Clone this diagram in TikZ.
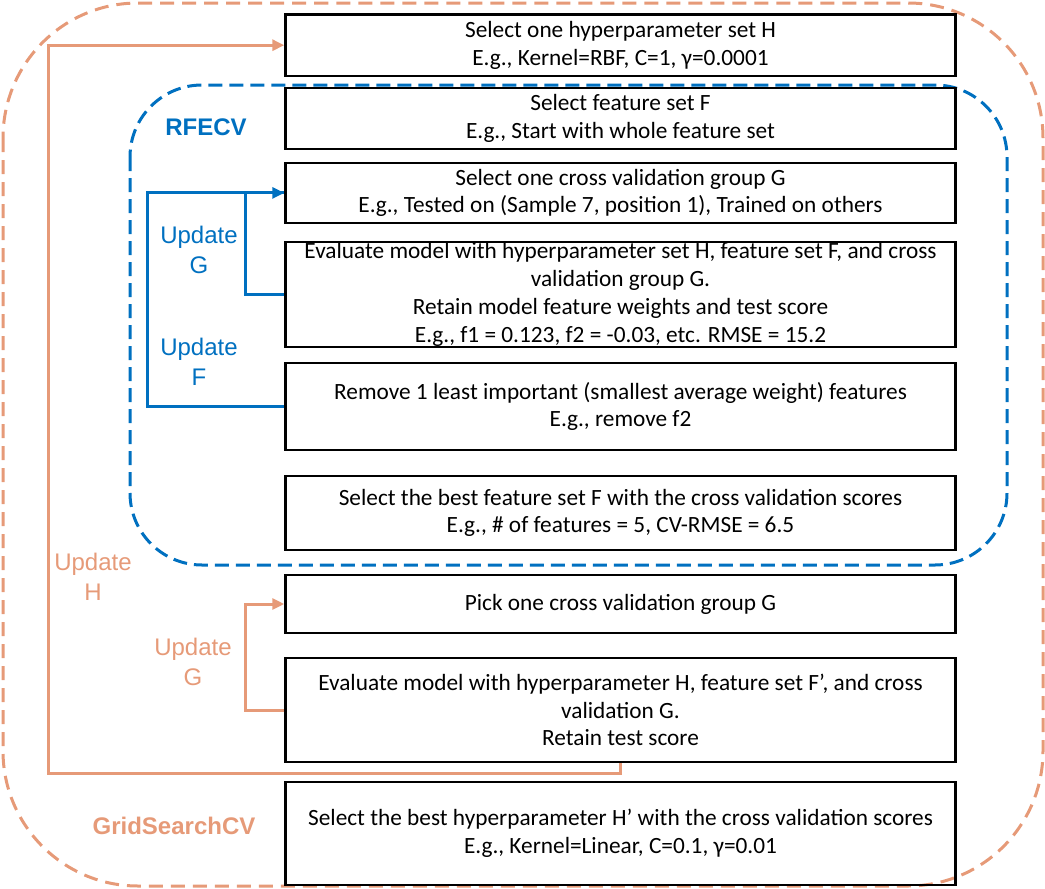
\documentclass[tikz,border=0pt]{standalone}
\usepackage{fontspec}
\setmainfont{Carlito}
\newfontfamily\arialf{Liberation Sans}
\usetikzlibrary{arrows.meta}
\definecolor{ablue}{HTML}{0070C0}
\definecolor{aorange}{HTML}{E69A78}
\begin{document}
\begin{tikzpicture}[x=1pt,y=-1pt,
  box/.style={draw=black,line width=2.5pt,minimum width=670pt,inner sep=0pt,align=center,
    font=\fontsize{23.3}{27.7}\selectfont},
  oline/.style={draw=aorange,line width=3pt},
  bline/.style={draw=ablue,line width=3pt},
  tip/.style={-{Triangle[length=12pt,width=11pt]}},
  lbl/.style={inner sep=0pt,align=center,font=\arialf\fontsize{24}{30}\selectfont},
  blbl/.style={inner sep=0pt,font=\arialf\bfseries\fontsize{24}{30}\selectfont}]
\useasboundingbox (0,0) rectangle (1045,889);
% containers
\draw[aorange,line width=3pt,dash pattern=on 14pt off 8pt,rounded corners=135pt] (3,3) rectangle (1043,886);
\draw[ablue,line width=3pt,dash pattern=on 14pt off 7pt,rounded corners=72pt] (130,85) rectangle (1007,565);
% boxes
\node[box,minimum height=61.5pt] (b1) at (620.5,45.2) {Select one hyperparameter set H\\E.g., Kernel=RBF, C=1, γ=0.0001};
\node[box,minimum height=60.7pt] (b2) at (620.5,118.4) {Select feature set F\\E.g., Start with whole feature set};
\node[box,minimum height=59.7pt] (b3) at (620.5,192.9) {Select one cross validation group G\\E.g., Tested on (Sample 7, position 1), Trained on others};
\node[box,minimum height=104.7pt] (b4) at (620.5,294.4) {Evaluate model with hyperparameter set H, feature set F, and cross\\validation group G.\\Retain model feature weights and test score\\E.g., f1 = 0.123, f2 = -0.03, etc. RMSE = 15.2};
\node[box,minimum height=87pt] (b5) at (620.5,406.5) {Remove 1 least important (smallest average weight) features\\E.g., remove f2};
\node[box,minimum height=74.3pt] (b6) at (620.5,512.9) {Select the best feature set F with the cross validation scores\\E.g., \# of features = 5, CV-RMSE = 6.5};
\node[box,minimum height=58pt] (b7) at (620.5,604) {Pick one cross validation group G};
\node[box,minimum height=104pt] (b8) at (620.5,710) {Evaluate model with hyperparameter H, feature set F’, and cross\\validation G.\\Retain test score};
\node[box,minimum height=103pt] (b9) at (620.5,833.5) {Select the best hyperparameter H’ with the cross validation scores\\E.g., Kernel=Linear, C=0.1, γ=0.01};
% connectors
\coordinate (hc) at (48,45.2);
\draw[oline,tip] (b8.south) -- ++(0,10) -| (hc) -- (b1.west);
\draw[oline,tip] (b8.west) -- ++(-38.5,0) |- (b7.west);
\draw[bline] (b5.west) -- ++(-136.5,0) |- (b3.west);
\draw[bline,tip] (b4.west) -- ++(-38.5,0) |- (b3.west);
% labels
\node[blbl,text=ablue] (rfecv) at (206,127) {RFECV};
\node[blbl,text=aorange] (gscv) at (174,826) {GridSearchCV};
\node[lbl,text=ablue] (ug1) at (199,250) {Update\\G};
\node[lbl,text=ablue] (uf) at (199,362) {Update\\F};
\node[lbl,text=aorange] (uh) at (93,577) {Update\\H};
\node[lbl,text=aorange] (ug2) at (193,662) {Update\\G};
\end{tikzpicture}
\end{document}
